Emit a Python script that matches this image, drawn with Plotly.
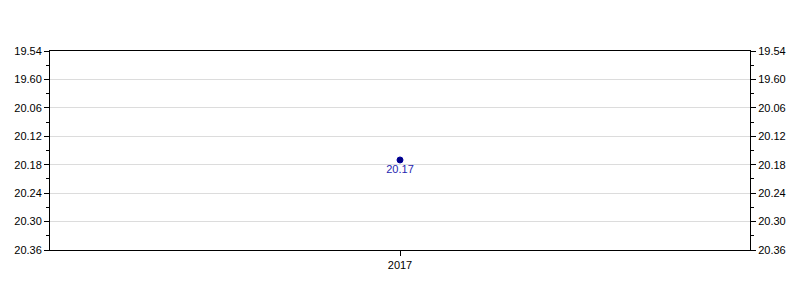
import plotly.graph_objects as go

categories = ["2017"]
values = ["20.17"]
tick_labels = ["19.54", "19.60", "20.06", "20.12", "20.18", "20.24", "20.30", "20.36"]


def to_sec(s):
    m, sec = s.split(".")
    return int(m) * 60 + int(sec)


y_vals = [to_sec(v) for v in values]
tick_vals = [to_sec(t) for t in tick_labels]
minor_vals = [(a + b) / 2 for a, b in zip(tick_vals[:-1], tick_vals[1:])]
y_range = [tick_vals[-1], tick_vals[0]]

font = "Liberation Sans, Arial, sans-serif"

fig = go.Figure()
fig.add_trace(go.Scatter(
    x=categories, y=y_vals, mode="markers+text",
    text=values, textposition="bottom center",
    textfont=dict(family=font, size=11, color="#1f1fb0"),
    marker=dict(size=6, color="#000080", line=dict(width=1, color="#0000a0")),
    cliponaxis=False, showlegend=False, hoverinfo="skip",
))
fig.add_trace(go.Scatter(
    x=categories, y=y_vals, yaxis="y2", mode="markers",
    marker=dict(opacity=0), showlegend=False, hoverinfo="skip",
))

yaxis_common = dict(
    range=y_range, tickvals=tick_vals, ticktext=tick_labels,
    ticks="outside", ticklen=5, tickcolor="black", tickwidth=1,
    showline=True, linecolor="black", linewidth=1,
    tickfont=dict(family=font, size=11, color="black"),
    minor=dict(tickvals=minor_vals, ticks="outside", ticklen=3,
               tickcolor="black", showgrid=False),
    zeroline=False,
)

fig.update_layout(
    width=800, height=300,
    margin=dict(l=50, r=50, t=51, b=50),
    plot_bgcolor="white", paper_bgcolor="white",
    xaxis=dict(
        type="category", range=[-0.5, 0.5],
        showline=True, mirror=True, linecolor="black", linewidth=1,
        ticks="outside", ticklen=5, tickcolor="black",
        showgrid=False, zeroline=False,
        tickfont=dict(family=font, size=11, color="black"),
    ),
    yaxis=dict(**yaxis_common, side="left", showgrid=True,
               gridcolor="#dcdcdc", gridwidth=1),
    yaxis2=dict(**yaxis_common, side="right", overlaying="y",
                showgrid=False),
)

fig.write_html("out.html")
